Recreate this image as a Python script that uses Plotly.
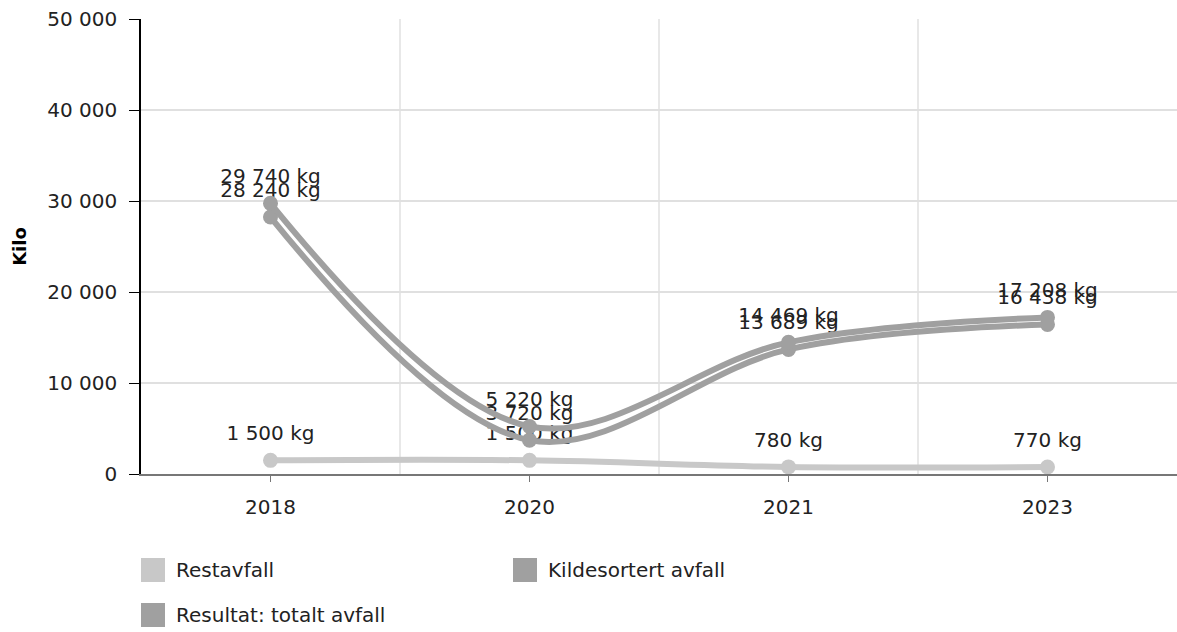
import plotly.graph_objects as go

years = ["2018", "2020", "2021", "2023"]
restavfall = [1500, 1500, 780, 770]
kildesortert = [28240, 3720, 13689, 16438]
totalt = [29740, 5220, 14469, 17208]

series_names = ["Restavfall", "Kildesortert avfall", "Resultat: totalt avfall"]
series_values = [restavfall, kildesortert, totalt]
series_colors = ["#c8c8c8", "#a0a0a0", "#a0a0a0"]

FONT = "Verdana, DejaVu Sans, sans-serif"
FS = 20
W, H = 1177, 632
ML, MR, MT, MB = 141, 0, 19, 158
PW, PH = W - ML - MR, H - MT - MB


def fmt(v):
    return f"{v:,}".replace(",", " ") + " kg"


fig = go.Figure()
for name, vals, col in zip(series_names, series_values, series_colors):
    fig.add_trace(go.Scatter(
        x=years, y=vals, name=name, mode="lines+markers",
        line=dict(color=col, width=6, shape="spline", smoothing=1),
        marker=dict(color=col, size=15),
        showlegend=False, hoverinfo="skip",
    ))
    fig.add_trace(go.Scatter(
        x=years, y=vals, mode="markers+text",
        text=[fmt(v) for v in vals], textposition="top center",
        textfont=dict(family=FONT, size=FS, color="#222222"),
        marker=dict(size=23, color="rgba(0,0,0,0)"),
        showlegend=False, hoverinfo="skip",
    ))

shapes = []
# vertical gridlines on category boundaries
for i in range(len(years) - 1):
    shapes.append(dict(type="line", xref="x", yref="paper", x0=i + 0.5, x1=i + 0.5,
                       y0=0, y1=1, line=dict(color="#e0e0e0", width=1.5), layer="below"))

# manual legend
annotations = []
legend_pos = [(141, 570), (513, 570), (141, 615)]
for (px, py), name, col in zip(legend_pos, series_names, series_colors):
    x0 = (px - ML) / PW
    x1 = (px + 24 - ML) / PW
    y0 = (MT + PH - (py - 12)) / PH
    y1 = (MT + PH - (py + 12)) / PH
    shapes.append(dict(type="rect", xref="paper", yref="paper", x0=x0, x1=x1, y0=y1, y1=y0,
                       fillcolor=col, line=dict(width=0)))
    annotations.append(dict(xref="paper", yref="paper", x=(px + 33 - ML) / PW,
                            y=(MT + PH - py) / PH, text=name, showarrow=False,
                            xanchor="left", yanchor="middle",
                            font=dict(family=FONT, size=FS, color="#222222")))

fig.update_layout(
    width=W, height=H,
    margin=dict(l=ML, r=MR, t=MT, b=MB),
    paper_bgcolor="white", plot_bgcolor="white",
    font=dict(family=FONT, size=FS, color="#222222"),
    separators=", ",
    shapes=shapes, annotations=annotations,
    showlegend=False,
    xaxis=dict(
        type="category", range=[-0.5, len(years) - 0.5],
        showgrid=False, zeroline=False,
        showline=True, linecolor="#777777", linewidth=1.5,
        ticks="outside", ticklen=6, tickcolor="#777777",
        ticklabelstandoff=8,
        tickfont=dict(family=FONT, size=FS, color="#222222"),
    ),
    yaxis=dict(
        range=[0, 50000], dtick=10000, tickformat=",d",
        showgrid=True, gridcolor="#e0e0e0", gridwidth=1.5,
        zeroline=False,
        showline=True, linecolor="#000000", linewidth=1.5,
        ticks="outside", ticklen=10, tickcolor="#000000",
        ticklabelstandoff=8,
        tickfont=dict(family=FONT, size=FS, color="#222222"),
        title=dict(text="<b>Kilo</b>", standoff=16,
                   font=dict(family=FONT, size=18, color="#000000")),
    ),
)

fig.write_html("out.html", config={"displayModeBar": False},
               post_script="document.body.style.margin='0';")
